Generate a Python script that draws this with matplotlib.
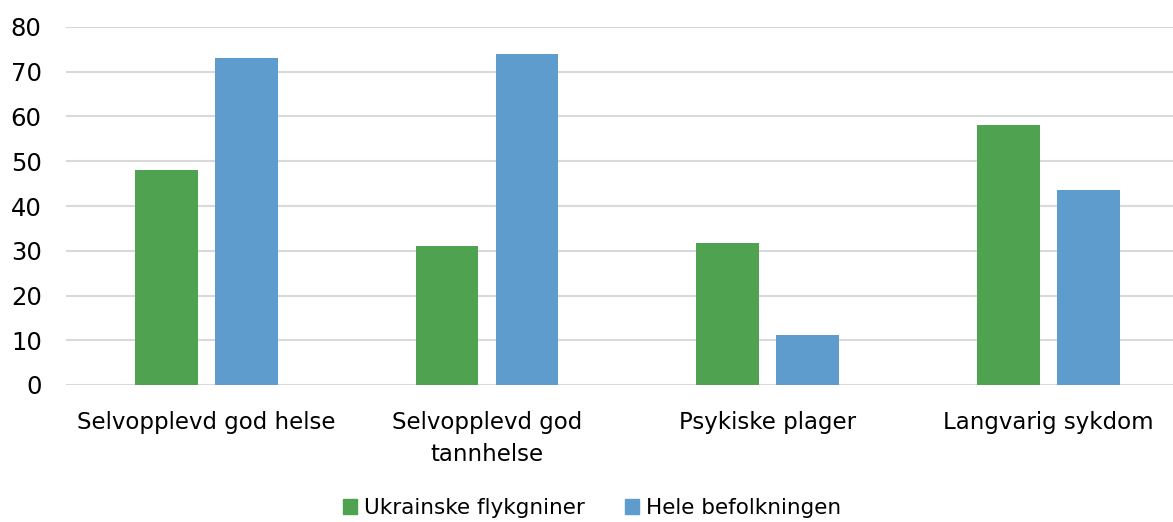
import numpy as np
import matplotlib.pyplot as plt
from matplotlib.patches import Patch

# Andel (%) per kategori
kategorier = ["Selvopplevd god helse", "Selvopplevd god\ntannhelse",
              "Psykiske plager", "Langvarig sykdom"]
ukrainske = [48, 31, 31.7, 58.1]
befolkningen = [73, 74, 11.2, 43.5]

gronn = "#4EA250"
bla = "#5F9CCE"

fig = plt.figure(figsize=(11.73, 5.22), dpi=100)
ax = fig.add_axes([66 / 1173, 1 - 385 / 522, 1 - 66 / 1173, (385 - 27) / 522])

x = np.arange(len(kategorier))
bredde = 0.224
ax.bar(x - 0.1425, ukrainske, bredde, color=gronn, zorder=3)
ax.bar(x + 0.1425, befolkningen, bredde, color=bla, zorder=3)

ax.set_ylim(0, 80)
ax.set_xlim(-0.5, -0.5 + (1173 - 66) / 280.7)
ax.set_yticks(range(0, 81, 10))
ax.yaxis.grid(True, color="#D9D9D9", linewidth=1.5, zorder=0)
ax.set_xticks(x)
ax.set_xticklabels(kategorier, fontsize=16.5, linespacing=1.5)
ax.tick_params(axis="both", length=0, colors="black")
ax.tick_params(axis="x", pad=19)
ax.tick_params(axis="y", pad=17.5, labelsize=17.5)
for side in ax.spines.values():
    side.set_visible(False)

handles = [Patch(color=gronn, label="Ukrainske flykgniner"),
           Patch(color=bla, label="Hele befolkningen")]
fig.legend(handles=handles, loc="center", bbox_to_anchor=(592 / 1173, 1 - 508 / 522),
           ncol=2, frameon=False, fontsize=15.5, handlelength=0.65, handleheight=0.65,
           handletextpad=0.3, columnspacing=1.9)

fig.savefig("out.png", dpi=100)
